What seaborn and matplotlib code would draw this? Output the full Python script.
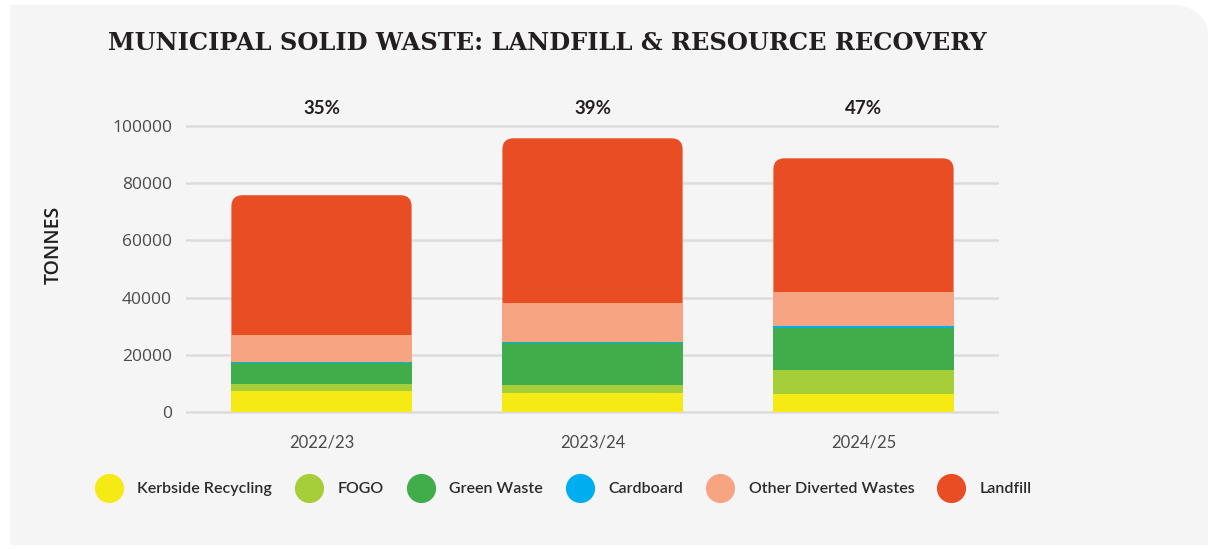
import matplotlib
matplotlib.use('Agg')
import matplotlib.pyplot as plt
import seaborn as sns
from matplotlib.patches import FancyBboxPatch, Rectangle, Ellipse
from matplotlib.lines import Line2D
import matplotlib.transforms as mtransforms

# dados (toneladas)
years = ['2022/23', '2023/24', '2024/25']
kerbside = [7500, 6800, 6300]
fogo = [2300, 2600, 8400]
green_waste = [7300, 14700, 14500]
cardboard = [500, 500, 700]
other_diverted = [9400, 13600, 12200]
landfill = [48800, 57500, 46600]
pct_labels = ['35%', '39%', '47%']

series_names = ['Kerbside Recycling', 'FOGO', 'Green Waste', 'Cardboard',
                'Other Diverted Wastes', 'Landfill']
series_vals = [kerbside, fogo, green_waste, cardboard, other_diverted, landfill]
colors = ['#f6ea14', '#a6ce39', '#40ad4a', '#00aeef', '#f7a482', '#e94d24']

W, H = 1208, 549
BG = '#f5f5f5'

sns.set_theme(style='white')
plt.rcParams['font.family'] = ['Lato', 'DejaVu Sans']

fig = plt.figure(figsize=(W / 100, H / 100), dpi=100)
fig.patch.set_facecolor('white')

# painel cinza com canto superior direito arredondado
R = 35
fig.patches.append(Rectangle((10 / W, 1 - 545 / H), (W - 10) / W, 540 / H,
                             transform=fig.transFigure, facecolor=BG,
                             edgecolor='none', zorder=-3))
fig.patches.append(Rectangle((1175 / W, 1 - (5 + R) / H), 40 / W, R / H,
                             transform=fig.transFigure, facecolor='white',
                             edgecolor='none', zorder=-2))
fig.patches.append(Ellipse((1175 / W, 1 - (5 + R) / H), 2 * R / W, 2 * R / H,
                           transform=fig.transFigure, facecolor=BG,
                           edgecolor='none', zorder=-1))

# eixos: 0 -> y=412 px, 100000 -> y=126 px
ppu = 286 / 100000
pad = 1500
ax = fig.add_axes([186 / W, 1 - (412 + pad * ppu) / H, 813 / W,
                   (286 + 2 * pad * ppu) / H])
ax.set_facecolor(BG)
ax.patch.set_alpha(0)

# barras empilhadas: desenha do total para baixo
cum = []
running = [0, 0, 0]
for vals in series_vals:
    running = [a + b for a, b in zip(running, vals)]
    cum.append(list(running))

for i in range(len(series_vals) - 1, -1, -1):
    sns.barplot(x=years, y=cum[i], color=colors[i], saturation=1, width=0.665,
                linewidth=0, ax=ax, zorder=3 if i < 5 else 2)
    if i == 5:
        top_patches = list(ax.patches)

ax.set_xlim(-0.5, 2.5)
ax.set_ylim(-pad, 100000 + pad)

# topo arredondado na camada do aterro
fig.canvas.draw()
bb = ax.get_window_extent()
px_x = bb.width / 3.0
px_y = bb.height / (100000 + 2 * pad)
asp = px_x / px_y
r = 11 / px_x
for p in top_patches:
    fp = FancyBboxPatch((p.get_x(), p.get_y()), p.get_width(), p.get_height(),
                        boxstyle=f'round,pad=0,rounding_size={r}',
                        mutation_aspect=asp, facecolor=p.get_facecolor(),
                        edgecolor='none', zorder=2)
    p.remove()
    ax.add_patch(fp)

ax.set_yticks(range(0, 100001, 20000))
ax.yaxis.grid(True, color='#dcdcdc', linewidth=1.8, zorder=0)
ax.set_axisbelow(True)
for s in ax.spines.values():
    s.set_visible(False)
ax.tick_params(axis='both', length=0)
ax.tick_params(axis='y', pad=10, labelsize=12.5, labelcolor='#4d4a4a')
ax.tick_params(axis='x', pad=13, labelsize=12, labelcolor='#4d4a4a')
for t in ax.get_yticklabels():
    t.set_family(['Open Sans', 'DejaVu Sans'])
ax.set_xlabel('')
ax.set_ylabel('')

fig.text(54 / W, 1 - 245 / H, 'TONNES', rotation=90, ha='center', va='center',
         fontsize=14, fontweight='semibold', color='#231f20',
         family=['Open Sans', 'DejaVu Sans'])

# percentuais acima das barras
trans = mtransforms.blended_transform_factory(ax.transData, fig.transFigure)
for i, lab in enumerate(pct_labels):
    ax.text(i, 1 - 108 / H, lab, transform=trans, ha='center', va='center',
            fontsize=13.5, fontweight='bold', color='#231f20', clip_on=False)

fig.text(108 / W, 1 - 43 / H, 'MUNICIPAL SOLID WASTE: LANDFILL & RESOURCE RECOVERY',
         ha='left', va='center', fontsize=17.35, fontweight='bold', color='#231f20',
         family=['DejaVu Serif'])

handles = [Line2D([0], [0], marker='o', linestyle='none', markersize=21,
                  markerfacecolor=c, markeredgecolor='none') for c in colors]
leg = fig.legend(handles, series_names, loc='center',
                 bbox_to_anchor=(564 / W, 1 - 489 / H), ncol=6, frameon=False,
                 fontsize=11.5, handletextpad=1.0, columnspacing=1.5,
                 handlelength=1.6)
for t in leg.get_texts():
    t.set_fontweight('semibold')
    t.set_color('#2b2b2b')

fig.savefig('out.png', dpi=100, facecolor=fig.get_facecolor())
